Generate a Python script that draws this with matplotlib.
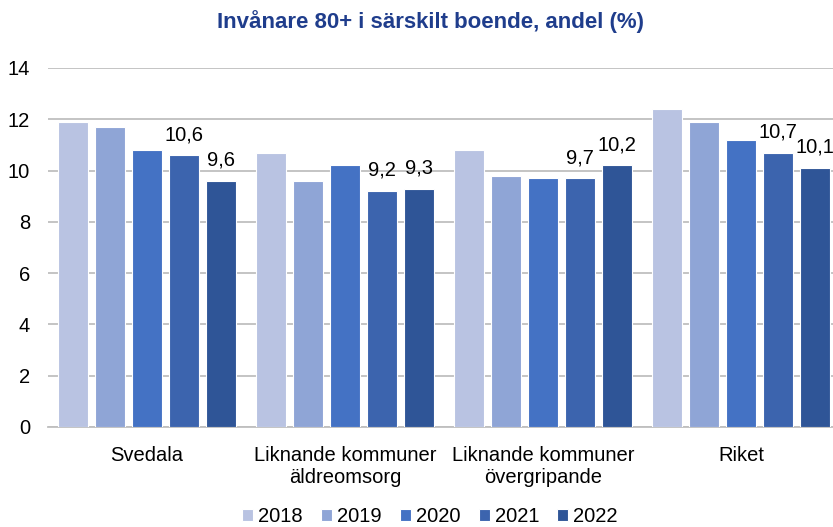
import numpy as np
import matplotlib.pyplot as plt

plt.rcParams["font.family"] = ["Liberation Sans", "DejaVu Sans"]

# Data
categories = ["Svedala", "Liknande kommuner\näldreomsorg", "Liknande kommuner\növergripande", "Riket"]
years = ["2018", "2019", "2020", "2021", "2022"]
values = {
    "2018": [11.9, 10.7, 10.8, 12.4],
    "2019": [11.7, 9.6, 9.8, 11.9],
    "2020": [10.8, 10.2, 9.7, 11.2],
    "2021": [10.6, 9.2, 9.7, 10.7],
    "2022": [9.6, 9.3, 10.2, 10.1],
}
labelled = ["2021", "2022"]
colors = ["#B9C3E2", "#8FA5D6", "#4472C4", "#3C64AE", "#2F5597"]

fig = plt.figure(figsize=(8.33, 5.27), dpi=100)
ax = fig.add_axes([48 / 833, 100 / 527, 792 / 833, 359 / 527])

x = np.arange(len(categories))
step = 0.187
width = 0.152
for i, y in enumerate(years):
    pos = x + (i - 2) * step
    bars = ax.bar(pos, values[y], width, color=colors[i], edgecolor="white",
                  linewidth=0.8, label=y, zorder=3)
    if y in labelled:
        ax.bar_label(bars, labels=[str(v).replace(".", ",") for v in values[y]],
                     padding=8, fontsize=14.5, color="black", zorder=4)

ax.set_xlim(-0.5, 3.5)
ax.set_ylim(0, 14)
ax.set_yticks(range(0, 15, 2))
ax.yaxis.grid(True, color="#BFBFBF", linewidth=1.3, zorder=0)
ax.set_xticks(x)
ax.set_xticklabels(categories, fontsize=14.5, linespacing=1.2)
ax.tick_params(axis="y", labelsize=14.5, length=0, pad=13)
ax.tick_params(axis="x", length=0, pad=14)
for s in ["top", "right", "left"]:
    ax.spines[s].set_visible(False)
ax.spines["bottom"].set_color("#BFBFBF")
ax.spines["bottom"].set_linewidth(1.3)

fig.text(430 / 833, 1 - 22 / 527, "Invånare 80+ i särskilt boende, andel (%)",
         ha="center", va="center", fontsize=16, fontweight="bold", color="#1F3D8C")

fig.legend(loc="center", bbox_to_anchor=(430 / 833, 1 - 517 / 527), ncol=5,
           frameon=False, fontsize=14.5, handlelength=0.55, handleheight=0.55,
           handletextpad=0.25, columnspacing=0.9)

fig.savefig("out.png", dpi=100)
